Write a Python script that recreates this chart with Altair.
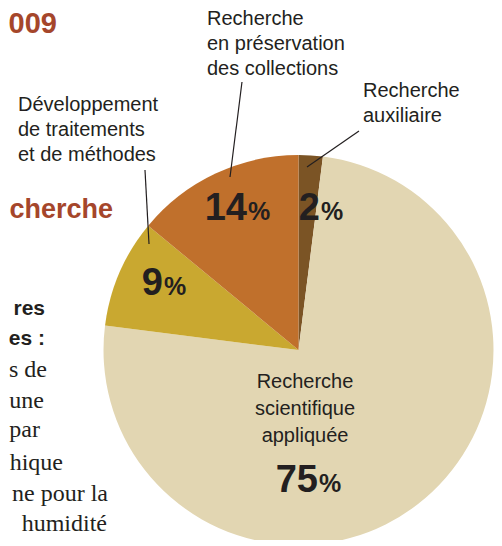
import altair as alt
import pandas as pd

# ---------------- data ----------------
categories = [
    "Recherche auxiliaire",
    "Recherche scientifique appliquée",
    "Développement de traitements et de méthodes",
    "Recherche en préservation des collections",
]
shares = [2, 75, 9, 14]
label_text = [
    "Recherche\nauxiliaire",
    "Recherche\nscientifique\nappliquée",
    "Développement\nde traitements\net de méthodes",
    "Recherche\nen préservation\ndes collections",
]

# fragments of the surrounding page text (cut by the frame in the reference)
title_lines = ["009", "cherche"]
bold_lines = ["res", "es :"]
body_lines = ["s de", "une", "par", "hique", "ne pour la", "humidité"]

# ---------------- layout / style ----------------
OFF = 8  # page margin
colors = ["#7b5425", "#e2d6b2", "#c9a830", "#c0702c"]
SANS = "Liberation Sans, Arial, Helvetica, sans-serif"
SERIF = "Liberation Serif, Times New Roman, serif"
INK = "#231f20"
BROWN = "#a5462b"

CX, CY, R = 298.5, 350, 195
label_pos = [(363, 97), (305, 388), (18, 111), (207, 25)]
label_lh = [25, 27, 25, 25]
label_align = ["left", "center", "left", "left"]
pct_pos = [(320, 220), (318, 492), (163, 295), (247, 220)]
leaders = [((359, 131), (307, 167)), None, ((145, 170), (149, 244)), ((242, 82), (230, 177))]

title_pos = [(57, 33), (113, 218)]
title_size = [29, 27]
bold_pos = [(45, 315), (45, 345)]
body_right = [47, 44, 40, 63, 108, 107]
body_base = [377, 408, 437, 470, 501, 531]

def px(v):
    return v - OFF

# ---------------- pie ----------------
pie_df = pd.DataFrame({"cat": categories, "share": shares, "idx": range(len(shares))})
pie = alt.Chart(pie_df).mark_arc(outerRadius=R).encode(
    theta=alt.Theta("share:Q", stack=True),
    color=alt.Color("cat:N", scale=alt.Scale(domain=categories, range=colors), legend=None),
    order=alt.Order("idx:Q"),
    x=alt.value(px(CX)),
    y=alt.value(px(CY)),
)

# ---------------- percentages ----------------
pct_df = pd.DataFrame({
    "num": [str(s) for s in shares],
    "x": [px(p[0]) for p in pct_pos],
    "x2": [px(p[0]) + 1 for p in pct_pos],
    "y": [px(p[1]) for p in pct_pos],
})
nums = alt.Chart(pct_df).mark_text(
    font=SANS, fontSize=38, fontWeight="bold", color=INK, align="right", baseline="alphabetic"
).encode(x=alt.X("x:Q", scale=None), y=alt.Y("y:Q", scale=None), text="num:N")
pcts = alt.Chart(pct_df).mark_text(
    font=SANS, fontSize=25, fontWeight="bold", color=INK, align="left", baseline="alphabetic"
).encode(x=alt.X("x2:Q", scale=None), y=alt.Y("y:Q", scale=None), text=alt.value("%"))

# ---------------- category labels ----------------
label_layers = []
for t, (lx, ly), lh, al in zip(label_text, label_pos, label_lh, label_align):
    d = pd.DataFrame({"t": [t], "x": [px(lx)], "y": [px(ly)]})
    label_layers.append(
        alt.Chart(d).mark_text(
            font=SANS, fontSize=20, color=INK, align=al, baseline="alphabetic",
            lineBreak="\n", lineHeight=lh,
        ).encode(x=alt.X("x:Q", scale=None), y=alt.Y("y:Q", scale=None), text="t:N")
    )

# ---------------- leader lines ----------------
ld = [l for l in leaders if l is not None]
lead_df = pd.DataFrame({
    "x": [px(a[0]) for a, b in ld], "y": [px(a[1]) for a, b in ld],
    "x2": [px(b[0]) for a, b in ld], "y2": [px(b[1]) for a, b in ld],
})
lead = alt.Chart(lead_df).mark_rule(color=INK, strokeWidth=1.2).encode(
    x=alt.X("x:Q", scale=None), y=alt.Y("y:Q", scale=None),
    x2="x2:Q", y2="y2:Q",
)

# ---------------- page text ----------------
page_layers = []
for t, (tx, ty), fs in zip(title_lines, title_pos, title_size):
    d = pd.DataFrame({"t": [t], "x": [px(tx)], "y": [px(ty)]})
    page_layers.append(alt.Chart(d).mark_text(
        font=SANS, fontSize=fs, fontWeight="bold", color=BROWN, align="right", baseline="alphabetic"
    ).encode(x=alt.X("x:Q", scale=None), y=alt.Y("y:Q", scale=None), text="t:N"))

bold_df = pd.DataFrame({"t": bold_lines, "x": [px(p[0]) for p in bold_pos], "y": [px(p[1]) for p in bold_pos]})
page_layers.append(alt.Chart(bold_df).mark_text(
    font=SANS, fontSize=21, fontWeight="bold", color=INK, align="right", baseline="alphabetic"
).encode(x=alt.X("x:Q", scale=None), y=alt.Y("y:Q", scale=None), text="t:N"))

body_df = pd.DataFrame({"t": body_lines, "x": [px(v) for v in body_right], "y": [px(v) for v in body_base]})
page_layers.append(alt.Chart(body_df).mark_text(
    font=SERIF, fontSize=24, color=INK, align="right", baseline="alphabetic"
).encode(x=alt.X("x:Q", scale=None), y=alt.Y("y:Q", scale=None), text="t:N"))

chart = alt.layer(pie, lead, nums, pcts, *label_layers, *page_layers).properties(
    width=486, height=532, padding=0,
    autosize=alt.AutoSizeParams(type="none"),
    background="white",
).configure_view(stroke=None)

chart.save("out.html", embed_options={"renderer": "svg", "actions": False})
